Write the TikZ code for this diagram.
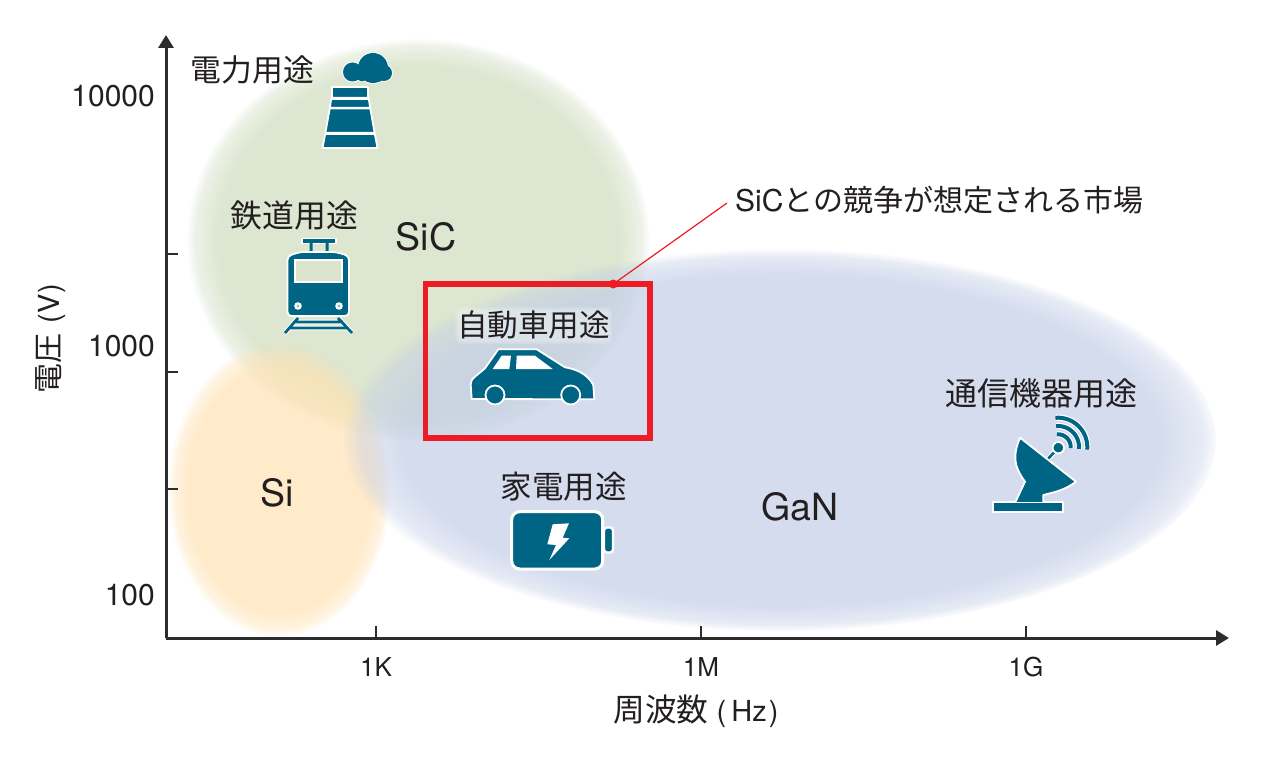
\documentclass[tikz,border=0pt]{standalone}
\usepackage{fontspec}
\setmainfont{TeX Gyre Heros}
\newfontfamily\cjk{Noto Sans CJK JP}
\usetikzlibrary{arrows.meta,fadings}
\definecolor{icon}{HTML}{006484}
\definecolor{ink}{HTML}{231F20}
\definecolor{axisc}{HTML}{2E2B2C}
\definecolor{redc}{HTML}{ED1C24}
\definecolor{sicg}{HTML}{DBE5CE}
\definecolor{sio}{HTML}{FFE2B2}
\definecolor{gan}{HTML}{C2CDE7}
\pgfdeclareradialshading{shsic}{\pgfpointorigin}{color(0bp)=(pgftransparent!5); color(21.5bp)=(pgftransparent!5); color(24bp)=(pgftransparent!50); color(25bp)=(pgftransparent!100); color(50bp)=(pgftransparent!100)}
\pgfdeclareradialshading{shsi}{\pgfpointorigin}{color(0bp)=(pgftransparent!30); color(20.5bp)=(pgftransparent!30); color(23.5bp)=(pgftransparent!60); color(25bp)=(pgftransparent!100); color(50bp)=(pgftransparent!100)}
\pgfdeclareradialshading{shgan}{\pgfpointorigin}{color(0bp)=(pgftransparent!30); color(21.5bp)=(pgftransparent!30); color(24bp)=(pgftransparent!60); color(25bp)=(pgftransparent!100); color(50bp)=(pgftransparent!100)}
\pgfdeclarefading{fsic}{\pgfuseshading{shsic}}
\pgfdeclarefading{fsi}{\pgfuseshading{shsi}}
\pgfdeclarefading{fgan}{\pgfuseshading{shgan}}
\tikzset{
  jp/.style={text=ink,inner sep=0pt,font=\fontsize{30}{36}\selectfont\cjk},
  tick/.style={text=ink,inner sep=0pt,font=\fontsize{30}{36}\selectfont},
  ktick/.style={text=ink,inner sep=0pt,font=\fontsize{26}{32}\selectfont},
  unitl/.style={text=ink,inner sep=0pt,font=\fontsize{29}{34}\selectfont},
  mat/.style={text=ink,inner sep=0pt,font=\fontsize{37.5}{44}\selectfont},
  axisl/.style={draw=axisc,line width=3pt},
  tickl/.style={draw=axisc,line width=1.5pt},
  ic/.style={fill=icon,draw=white,line width=1.8pt,line join=round},
  icf/.style={fill=icon},
}
\begin{document}
\begin{tikzpicture}[x=1pt,y=-1pt]
\useasboundingbox (0,0) rectangle (1264,762);
\fill[white] (0,0) rectangle (1264,762);
% regions
\fill[sicg,path fading=fsic,fit fading=true] (418,240) ellipse [x radius=231, y radius=201];
\fill[sio,path fading=fsi,fit fading=true] (279,490) ellipse [x radius=111, y radius=147];
\fill[gan,path fading=fgan,fit fading=true] (781,440) ellipse [x radius=437, y radius=191];
% axes
\coordinate (org) at (166,638);
\coordinate (ytip) at (166,35);
\coordinate (xtip) at (1229,638);
\draw[axisl,-{Triangle[length=13pt,width=15pt]}] (org) -- (ytip);
\draw[axisl,-{Triangle[length=13pt,width=15pt]}] (org) -- (xtip);
\foreach \y in {254,372,489}{\draw[tickl] (166,\y) -- (178,\y);}
\foreach \x in {376,701,1026}{\draw[tickl] (\x,638) -- (\x,626);}
\node[tick,anchor=east] (y4) at (155,96) {10000};
\node[tick,anchor=east] (y3) at (155,346) {1000};
\node[tick,anchor=east] (y2) at (155,595) {100};
\node[ktick] (x1) at (376,667) {1K};
\node[ktick] (x2) at (701,667) {1M};
\node[ktick] (x3) at (1026,667) {1G};
\node[unitl] (xl) at (696,711) {{\fontsize{31.7}{36}\selectfont\cjk 周波数}\hspace{8pt}(\hspace{5pt}Hz\hspace{2pt})};
\node[unitl,rotate=90] (yl) at (51,339) {{\fontsize{30}{36}\selectfont\cjk 電圧}\hspace{10pt}(\hspace{0.6pt}V\hspace{0.6pt})};
% power plant
\fill[ic] (352.5,72) circle (9.5) (373,68) circle (15) (384,73) circle (8) (362,76) circle (5.5) (378,76) circle (6);
\fill[icf] (352.5,72) circle (9.5) (373,68) circle (15) (384,73) circle (8) (362,76) circle (5.5) (378,76) circle (6);
\path[ic] (332,87)--(368,87)--(368,97)--(369,100)--(370,107)--(375,135)--(377.5,148)--(322.5,148)--(325,135)--(330,107)--(331,100)--(332,97)--cycle;
\fill[white] (331,97) rectangle (369,100) (330,107) rectangle (371,109.5) (325,132) rectangle (375,135);
% train
\path[ic] (302,238.5) rectangle (336,243.5);
\fill[icon] (309.5,243) rectangle (312.5,252) (325.5,243) rectangle (328.5,252);
\path[ic,rounded corners=4pt] (287.5,256) -- (300,252) -- (336,252) -- (349,256) -- (349,316) -- (287.5,316) -- cycle;
\path[fill=sicg,draw=white,line width=1.6pt] (295,260) rectangle (342,282);
\fill[white] (298,306) circle (3.8) (339,306) circle (3.8);
\fill[sicg!70!icon] (298,306) circle (1.6) (339,306) circle (1.6);
\draw[white,line width=4.8pt] (298,318) -- (285,333) (338,318) -- (352,333) (294,322) -- (343,322) (290,328) -- (347,328);
\draw[icon,line width=2.8pt] (298,318) -- (285,333) (338,318) -- (352,333) (294,322) -- (343,322) (290,328) -- (347,328);
% car
\path[ic] (471.7,399) -- (470.7,385) .. controls (471,380) and (473,378) .. (475,376.7) -- (485,368.3) -- (498.3,349.3) -- (536.7,349.3) -- (565,367.3) .. controls (575,369) and (587,373) .. (593.3,385) -- (594.3,399.3) -- cycle;
\fill[white] (492.7,369) -- (501.7,355.7) -- (511,355.7) -- (509.3,369) -- cycle;
\fill[white] (516.7,355.7) -- (535,355.7) -- (552.7,369) -- (516,369) -- cycle;
\path[ic] (495,395) circle (9.5) (570.7,395) circle (9.5);
% battery
\path[fill=icon,draw=white,line width=3pt,rounded corners=8pt] (511.7,511.7) rectangle (602.7,569);
\path[fill=icon,draw=white,line width=2.4pt,rounded corners=3pt] (604,527.5) -- (613,527.5) -- (613,552.5) -- (604,552.5) -- cycle;
\fill[white] (552.7,524.3) -- (569,523.3) -- (562.7,537.7) -- (569.3,538.3) -- (549.3,560) -- (556,545) -- (547.3,544.3) -- cycle;
% dish
\path[ic] (993.3,501.7) rectangle (1063.3,511.7);
\draw[white,line width=4.5pt] (1047,460) -- (1058,448);
\draw[icon,line width=2.6pt] (1047,460) -- (1058,448);
\path[ic] (1058.3,447.7) circle (5.7);
\path[ic] (1020,437.7) -- (1076,481.7) .. controls (1065,490) and (1055,492) .. (1043.3,495) -- (1043.3,503) -- (1015,503) -- (1025,481.7) .. controls (1013,465) and (1013,455) .. (1020,437.7) -- cycle;
\fill[icon] (1000,502.5) rectangle (1062,510.8);
\foreach \r in {12.7,21,29.3}{
  \draw[white,line width=6.4pt] plot[smooth,samples=15,domain=-5:95] ({1058+\r*cos(\x)},{447-\r*sin(\x)});
}
\foreach \r in {12.7,21,29.3}{
  \draw[icon,line width=4pt] plot[smooth,samples=15,domain=-5:95] ({1058+\r*cos(\x)},{447-\r*sin(\x)});
}
% labels
\node[jp,font=\fontsize{30.8}{36}\selectfont\cjk] (pow) at (252.5,70) {電力用途};
\node[jp,font=\fontsize{31.8}{36}\selectfont\cjk] (rail) at (294.5,215) {鉄道用途};
\node[mat] (sic) at (426,237) {SiC};
\node[mat] (si) at (277,493) {Si};
\node[mat] (ga) at (800,507) {GaN};
\node[jp,font=\fontsize{31.5}{36}\selectfont\cjk] (home) at (563.5,487) {家電用途};
\node[jp,font=\fontsize{32}{36}\selectfont\cjk] (comm) at (1041,393) {通信機器用途};
\foreach \e in {0,1.5,3}{
  \fill[white,opacity=.14,rounded corners=6pt] (458-\e,310-\e) rectangle (609+\e,341+\e);
}
\node[jp,font=\fontsize{30.6}{36}\selectfont\cjk] (auto) at (533.5,325) {自動車用途};
% callout
\node[draw=redc,line width=5.4pt,inner sep=0pt,minimum width=224.7pt,minimum height=154pt] (mkt) at (537.65,360.8) {};
\node[fill=redc,circle,inner sep=0pt,minimum size=9pt] (dot) at (613.3,284) {};
\coordinate (cend) at (727,203);
\draw[redc,line width=1.2pt] (dot.center) -- (cend);
\node[tick,anchor=west] (call) at (735,200) {SiC{\cjk との競争が想定される市場}};
\end{tikzpicture}
\end{document}
